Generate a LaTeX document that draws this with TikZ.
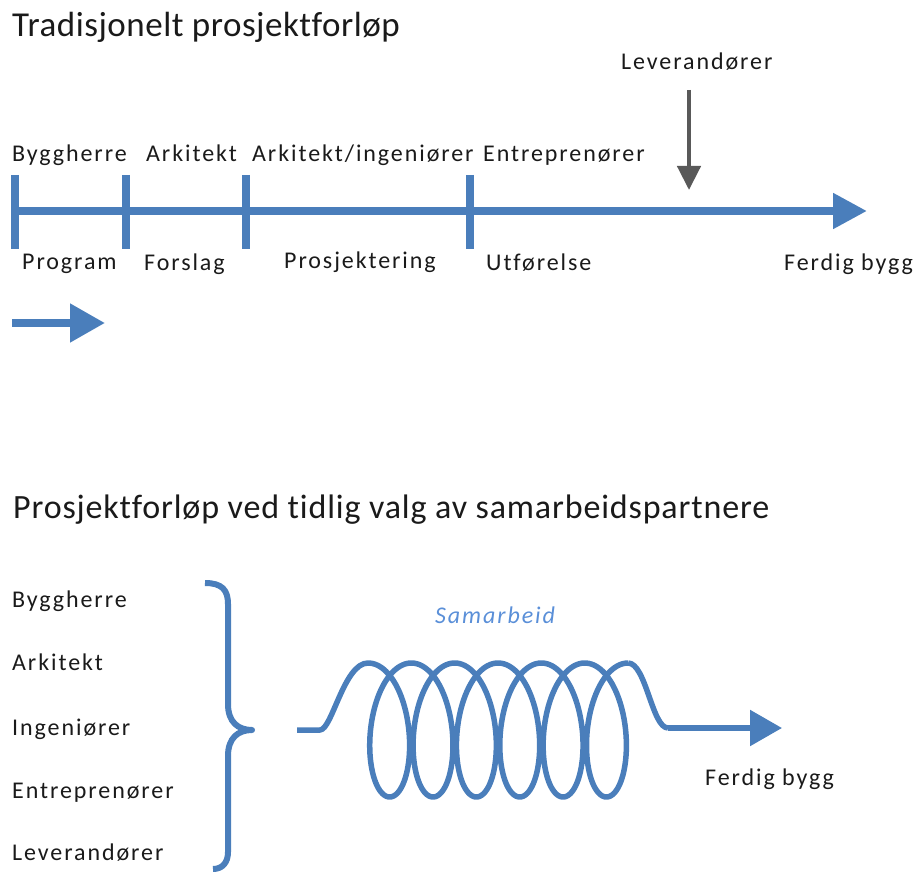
\documentclass[tikz,border=0pt]{standalone}
\usepackage{fontspec}
\setmainfont{Carlito}
\newfontfamily\lblfont{Carlito}[LetterSpace=8, Ligatures=NoCommon]
\newfontfamily\ttlfont{Carlito}[LetterSpace=1.5, Ligatures=NoCommon]
\newfontfamily\ttlwidefont{Carlito}[LetterSpace=2.5, Ligatures=NoCommon]
\usetikzlibrary{arrows.meta}
\definecolor{lineblue}{HTML}{4A7EBB}
\definecolor{softblue}{HTML}{5A8FD8}
\definecolor{arrowgray}{HTML}{595959}
\definecolor{ink}{HTML}{1A1A1A}
\tikzset{
  lbl/.style={anchor=base west, inner sep=0pt, text=ink, font=\lblfont\fontsize{24}{28}\selectfont},
  ttl/.style={anchor=base west, inner sep=0pt, text=ink, font=\ttlfont\fontsize{35}{40}\selectfont},
  bar/.style={draw=lineblue, line width=8pt},
  tick/.style={draw=lineblue, line width=7.5pt},
  spring/.style={draw=lineblue, line width=5.5pt, line join=round},
}
\begin{document}
\begin{tikzpicture}[x=1pt, y=-1pt]
\useasboundingbox (0,0) rectangle (916,872);

% ---------- traditional sequence ----------
\node[ttl] (title1) at (12,37) {Tradisjonelt prosjektforløp};

\node[lbl] (byg1) at (12,162) {Byggherre};
\node[lbl] (ark1) at (146,162) {Arkitekt};
\node[lbl] (arking) at (252,162) {Arkitekt/ingeniører};
\node[lbl] (ent1) at (483,162) {Entreprenører};
\node[lbl] (lev1) at (621,70) {Leverandører};

\node[lbl] (prog) at (22,269) {Program};
\node[lbl] (fors) at (144,270) {Forslag};
\node[lbl] (prosj) at (284,268) {Prosjektering};
\node[lbl] (utf) at (486,270) {Utførelse};
\node[lbl] (ferd1) at (784,270) {Ferdig bygg};

\coordinate (tstart) at (12,211);
\coordinate (tend) at (867,211);
\draw[bar, -{Triangle[length=34pt, width=34pt]}] (tstart) -- (tend);

\foreach \name/\xx in {k0/15, k1/126, k2/246, k3/470} {
  \coordinate (\name top) at (\xx,175);
  \coordinate (\name bot) at (\xx,249);
  \draw[tick] (\name top) -- (\name bot);
}

\coordinate (levfrom) at (689,90);
\coordinate (levto) at (689,190);
\draw[draw=arrowgray, line width=4.5pt, -{Triangle[length=24pt, width=23pt]}] (levfrom) -- (levto);

\coordinate (legfrom) at (12,323);
\coordinate (legto) at (105,323);
\draw[bar, -{Triangle[length=35pt, width=37pt]}] (legfrom) -- (legto);

% ---------- early partnering ----------
\node[ttl, font=\ttlwidefont\fontsize{34}{40}\selectfont] (title2) at (13,518) {Prosjektforløp ved tidlig valg av samarbeidspartnere};

\node[lbl] (byg2) at (12,607) {Byggherre};
\node[lbl] (ark2) at (12,670) {Arkitekt};
\node[lbl] (ing2) at (12,735) {Ingeniører};
\node[lbl] (ent2) at (12,798) {Entreprenører};
\node[lbl] (lev2) at (12,860) {Leverandører};

% curly brace gathering the partners
\coordinate (btop) at (205,583);
\coordinate (btip) at (252,730);
\coordinate (bbot) at (213,869);
\draw[spring, line width=6pt]
  (btop) .. controls (222,583) and (228,590) .. (228,604)
  -- (228,704) .. controls (228,722) and (238,730) .. (btip)
  .. controls (238,730) and (228,738) .. (228,756)
  -- (228,852) .. controls (228,863) and (222,869) .. (bbot);

\node[anchor=base west, inner sep=0pt, text=softblue,
      font=\lblfont\itshape\fontsize{24}{28}\selectfont] (samarb) at (435,623) {Samarbeid};

% spring: lead-in, trochoid coils, lead-out
\coordinate (cstart) at (297,730);
\coordinate (capex1) at (368,663);
\coordinate (capex2) at (628.1,663);
\coordinate (cout) at (668,728);
\draw[spring]
  (cstart) -- (320,730) .. controls (332,730) and (344,663) .. (capex1)
  -- plot[domain=0:37.6991, samples=600, smooth]
     ({368+6.9*\x+30*sin(\x r)}, {730-67*cos(\x r)});
\draw[spring] (capex2) .. controls (646,663) and (652,728) .. (cout);

\coordinate (ctip) at (782,728);
\draw[spring, -{Triangle[length=32pt, width=35pt]}] (cout) -- (ctip);

\node[lbl] (ferd2) at (705,785) {Ferdig bygg};
\end{tikzpicture}
\end{document}
